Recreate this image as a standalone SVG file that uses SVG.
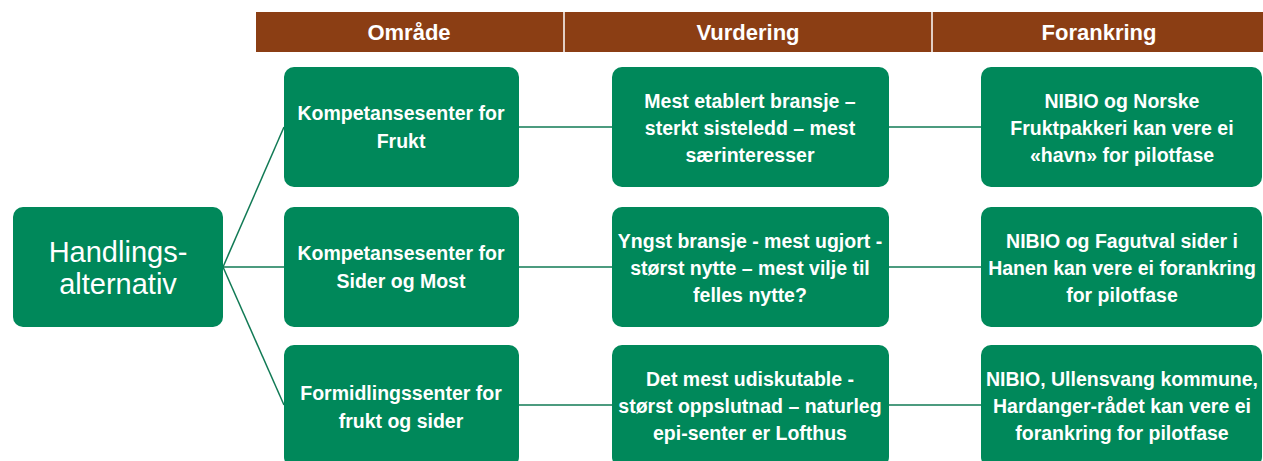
<svg xmlns="http://www.w3.org/2000/svg" width="1263" height="461" viewBox="0 0 1263 461">
<style>
.hdr{fill:#8B3E14}
.box{fill:#00885A}
.t{font-family:"Liberation Sans",Arial,sans-serif;font-weight:bold;fill:#fff;text-anchor:middle;font-size:19.5px}
.th{font-size:22px}
.big{font-size:29px;font-weight:normal}
.c{stroke:#117A55;stroke-width:1.5;fill:none}
</style>
<rect width="1263" height="461" fill="#fff"/>
<g id="header">
<rect class="hdr" x="256" y="12" width="1007" height="40"/>
<line x1="564" y1="12" x2="564" y2="52" stroke="#fff" stroke-width="1.5"/>
<line x1="932" y1="12" x2="932" y2="52" stroke="#fff" stroke-width="1.5"/>
<text class="t th" x="409" y="40">Område</text>
<text class="t th" x="748" y="40">Vurdering</text>
<text class="t th" x="1099" y="40">Forankring</text>
</g>
<g id="connectors">
<line class="c" x1="223" y1="267" x2="284" y2="127"/>
<line class="c" x1="223" y1="267" x2="284" y2="267"/>
<line class="c" x1="223" y1="267" x2="284" y2="405"/>
<line class="c" x1="519" y1="127" x2="612" y2="127"/>
<line class="c" x1="519" y1="267" x2="612" y2="267"/>
<line class="c" x1="519" y1="405" x2="612" y2="405"/>
<line class="c" x1="889" y1="127" x2="981" y2="127"/>
<line class="c" x1="889" y1="267" x2="981" y2="267"/>
<line class="c" x1="889" y1="405" x2="981" y2="405"/>
</g>
<g id="root">
<rect class="box" x="13" y="207" width="210" height="120" rx="10"/>
<text class="t big" x="118" y="262">Handlings-</text>
<text class="t big" x="118" y="294">alternativ</text>
</g>
<g id="a1">
<rect class="box" x="284" y="67" width="235" height="120" rx="10"/>
<text class="t" x="401" y="120">Kompetansesenter for</text>
<text class="t" x="401" y="148">Frukt</text>
</g>
<g id="a2">
<rect class="box" x="284" y="207" width="235" height="120" rx="10"/>
<text class="t" x="401" y="260">Kompetansesenter for</text>
<text class="t" x="401" y="288">Sider og Most</text>
</g>
<g id="a3">
<rect class="box" x="284" y="345" width="235" height="122" rx="10"/>
<text class="t" x="401" y="400">Formidlingssenter for</text>
<text class="t" x="401" y="428">frukt og sider</text>
</g>
<g id="v1">
<rect class="box" x="612" y="67" width="277" height="120" rx="10"/>
<text class="t" x="750" y="108">Mest etablert bransje  –</text>
<text class="t" x="750" y="135">sterkt sisteledd  – mest</text>
<text class="t" x="750" y="162">særinteresser</text>
</g>
<g id="v2">
<rect class="box" x="612" y="207" width="277" height="120" rx="10"/>
<text class="t" x="750" y="248">Yngst bransje - mest ugjort -</text>
<text class="t" x="750" y="275">størst nytte  – mest vilje til</text>
<text class="t" x="750" y="302">felles nytte?</text>
</g>
<g id="v3">
<rect class="box" x="612" y="345" width="277" height="122" rx="10"/>
<text class="t" x="750" y="386">Det mest udiskutable -</text>
<text class="t" x="750" y="413">størst oppslutnad – naturleg</text>
<text class="t" x="750" y="440">epi-senter er Lofthus</text>
</g>
<g id="f1">
<rect class="box" x="981" y="67" width="281" height="120" rx="10"/>
<text class="t" x="1122" y="108">NIBIO og Norske</text>
<text class="t" x="1122" y="135">Fruktpakkeri kan vere ei</text>
<text class="t" x="1122" y="162">«havn» for pilotfase</text>
</g>
<g id="f2">
<rect class="box" x="981" y="207" width="281" height="120" rx="10"/>
<text class="t" x="1122" y="248">NIBIO og Fagutval sider i</text>
<text class="t" x="1122" y="275">Hanen kan vere ei forankring</text>
<text class="t" x="1122" y="302">for pilotfase</text>
</g>
<g id="f3">
<rect class="box" x="981" y="345" width="281" height="122" rx="10"/>
<text class="t" x="1122" y="386">NIBIO, Ullensvang kommune,</text>
<text class="t" x="1122" y="413">Hardanger-rådet kan vere ei</text>
<text class="t" x="1122" y="440">forankring for pilotfase</text>
</g>
</svg>
